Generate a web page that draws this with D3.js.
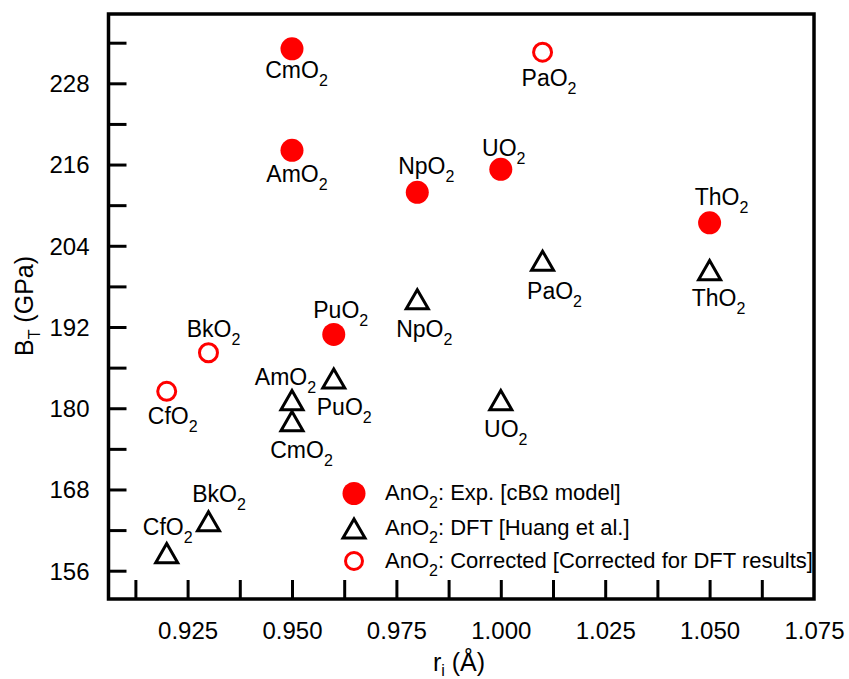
<!DOCTYPE html>
<html>
<head>
<meta charset="utf-8">
<script src="https://cdn.jsdelivr.net/npm/d3@7"></script>
<style>
  html, body { margin: 0; padding: 0; background: #fff; }
  svg { display: block; font-family: "Liberation Sans", Arial, Helvetica, sans-serif; }
</style>
</head>
<body>
<svg id="chart" width="849" height="679"></svg>
<script>
// Bulk modulus B_T of actinide dioxides vs. ionic radius r_i

// Experimental values (cBΩ model)
const expNames  = ["ThO2", "UO2", "NpO2", "PuO2", "AmO2", "CmO2"];
const expRadius = [1.05, 1.00, 0.98, 0.96, 0.95, 0.95];
const expBulk   = [207.4, 215.3, 211.9, 190.9, 218.1, 233.1];

// DFT values (Huang et al.)
const dftNames  = ["ThO2", "PaO2", "UO2", "NpO2", "PuO2", "AmO2", "CmO2", "BkO2", "CfO2"];
const dftRadius = [1.05, 1.01, 1.00, 0.98, 0.96, 0.95, 0.95, 0.93, 0.92];
const dftBulk   = [200.4, 201.8, 181.2, 196.1, 184.4, 181.2, 178.1, 163.3, 158.6];

// Corrected values
const corrNames  = ["PaO2", "BkO2", "CfO2"];
const corrRadius = [1.01, 0.93, 0.92];
const corrBulk   = [232.6, 188.2, 182.5];

// Axis ticks
const xMinorTicks = [0.9125, 0.925, 0.9375, 0.95, 0.9625, 0.975, 0.9875, 1.0, 1.0125, 1.025, 1.0375, 1.05, 1.0625];
const xLabelTicks = [0.925, 0.95, 0.975, 1.0, 1.025, 1.05, 1.075];
const yMinorTicks = [156, 162, 168, 174, 180, 186, 192, 198, 204, 210, 216, 222, 228, 234];
const yLabelTicks = [156, 168, 180, 192, 204, 216, 228];

// Legend entries
const legendLabels = ["Exp. [cBΩ model]", "DFT [Huang et al.]", "Corrected [Corrected for DFT results]"];

// Label offsets (text centre x, baseline y) relative to each mark
const labelOffset = {
  exp:  { ThO2: [12, -18], UO2: [3, -13], NpO2: [9, -18], PuO2: [7, -16], AmO2: [5, 32], CmO2: [4.5, 29] },
  dft:  { ThO2: [9, 36], PaO2: [12, 38], UO2: [5, 37], NpO2: [7, 37.5], PuO2: [10.5, 37],
          AmO2: [-6.5, -15], CmO2: [9.5, 37], BkO2: [10.5, -19.5], CfO2: [1, -18] },
  corr: { PaO2: [6.5, 33.5], BkO2: [5, -15.5], CfO2: [6, 33] }
};

const zip = (names, xs, ys) => names.map((n, i) => ({ name: n, r: xs[i], b: ys[i] }));
const expData  = zip(expNames, expRadius, expBulk);
const dftData  = zip(dftNames, dftRadius, dftBulk);
const corrData = zip(corrNames, corrRadius, corrBulk);

const plot = { left: 108.5, right: 814, top: 14, bottom: 599 };
const RED = "#ff0000";

const svg = d3.select("#chart");

const x = d3.scaleLinear().domain([0.90606, 1.075]).range([plot.left, plot.right]);
const y = d3.scaleLinear().domain([151.82, 238.24]).range([plot.bottom, plot.top]);

// Inward tick marks
svg.append("g")
  .attr("transform", `translate(0,${plot.bottom})`)
  .call(d3.axisBottom(x).tickValues(xMinorTicks).tickSize(-19).tickFormat(""))
  .call(g => g.select(".domain").remove())
  .call(g => g.selectAll("line").attr("stroke", "#000").attr("stroke-width", 3));

svg.append("g")
  .attr("transform", `translate(${plot.left},0)`)
  .call(d3.axisLeft(y).tickValues(yMinorTicks).tickSize(-18).tickFormat(""))
  .call(g => g.select(".domain").remove())
  .call(g => g.selectAll("line").attr("stroke", "#000").attr("stroke-width", 3));

// Tick labels
svg.append("g")
  .attr("transform", `translate(0,${plot.bottom})`)
  .call(d3.axisBottom(x).tickValues(xLabelTicks).tickSize(0).tickFormat(d3.format(".3f")))
  .call(g => g.select(".domain").remove())
  .call(g => g.selectAll("text")
    .attr("y", 40).attr("dy", null)
    .attr("font-size", 24).attr("font-family", "Liberation Sans, Arial, sans-serif")
    .attr("fill", "#000"));

svg.append("g")
  .attr("transform", `translate(${plot.left},0)`)
  .call(d3.axisLeft(y).tickValues(yLabelTicks).tickSize(0).tickFormat(d3.format("d")))
  .call(g => g.select(".domain").remove())
  .call(g => g.selectAll("text")
    .attr("x", -19).attr("dy", "0.35em")
    .attr("font-size", 24).attr("font-family", "Liberation Sans, Arial, sans-serif")
    .attr("fill", "#000"));

// Frame
svg.append("rect")
  .attr("x", plot.left).attr("y", plot.top)
  .attr("width", plot.right - plot.left).attr("height", plot.bottom - plot.top)
  .attr("fill", "none").attr("stroke", "#000").attr("stroke-width", 3.5);

// Axis titles
const xt = svg.append("text")
  .attr("x", 459).attr("y", 671).attr("text-anchor", "middle")
  .attr("font-size", 25).attr("fill", "#000");
xt.append("tspan").text("r");
xt.append("tspan").attr("font-size", 16).attr("dy", 5).text("i");
xt.append("tspan").attr("dy", -5).text(" (Å)");

const yt = svg.append("text")
  .attr("transform", "translate(33,306) rotate(-90)")
  .attr("text-anchor", "middle").attr("font-size", 25).attr("fill", "#000");
yt.append("tspan").text("B");
yt.append("tspan").attr("font-size", 16).attr("dy", 7).text("T");
yt.append("tspan").attr("dy", -7).text(" (GPa)");

// Marker shapes
const triPath = (s) => {
  const h = s * Math.sqrt(3) / 2;
  return `M0,${-h / 2}L${-s / 2},${h / 2}L${s / 2},${h / 2}Z`;
};

// Compound label with subscript digit
function addLabel(g, name, cx, base) {
  const t = g.append("text")
    .attr("x", cx).attr("y", base)
    .attr("text-anchor", "middle").attr("font-size", 23).attr("fill", "#000");
  t.append("tspan").text(name.slice(0, -1));
  t.append("tspan").attr("font-size", 16).attr("dy", 8).text(name.slice(-1));
}

const marks = svg.append("g");
const labels = svg.append("g");

marks.selectAll("circle.exp").data(expData).join("circle")
  .attr("class", "exp")
  .attr("cx", d => x(d.r)).attr("cy", d => y(d.b)).attr("r", 11.5)
  .attr("fill", RED);

marks.selectAll("path.dft").data(dftData).join("path")
  .attr("class", "dft")
  .attr("transform", d => `translate(${x(d.r)},${y(d.b)})`)
  .attr("d", triPath(22))
  .attr("fill", "none").attr("stroke", "#000").attr("stroke-width", 3).attr("stroke-linejoin", "miter");

marks.selectAll("circle.corr").data(corrData).join("circle")
  .attr("class", "corr")
  .attr("cx", d => x(d.r)).attr("cy", d => y(d.b)).attr("r", 9)
  .attr("fill", "none").attr("stroke", RED).attr("stroke-width", 3);

[["exp", expData], ["dft", dftData], ["corr", corrData]].forEach(([key, data]) => {
  data.forEach(d => {
    const o = labelOffset[key][d.name];
    addLabel(labels, d.name, x(d.r) + o[0], y(d.b) + o[1]);
  });
});

// Legend
const legend = svg.append("g");
const legX = 354, legTextX = 385, legY = [493.5, 528.5, 561];
legend.append("circle").attr("cx", legX).attr("cy", legY[0]).attr("r", 11.5).attr("fill", RED);
legend.append("path").attr("transform", `translate(${legX},${legY[1]})`).attr("d", triPath(22))
  .attr("fill", "none").attr("stroke", "#000").attr("stroke-width", 3);
legend.append("circle").attr("cx", legX).attr("cy", legY[2]).attr("r", 8.5)
  .attr("fill", "none").attr("stroke", RED).attr("stroke-width", 3);

legendLabels.forEach((lab, i) => {
  const t = legend.append("text")
    .attr("x", legTextX).attr("y", legY[i] + 6.5)
    .attr("font-size", 22).attr("fill", "#000");
  t.append("tspan").text("AnO");
  t.append("tspan").attr("font-size", 16).attr("dy", 8).text("2");
  t.append("tspan").attr("dy", -8).text(": " + lab);
});
</script>
</body>
</html>
